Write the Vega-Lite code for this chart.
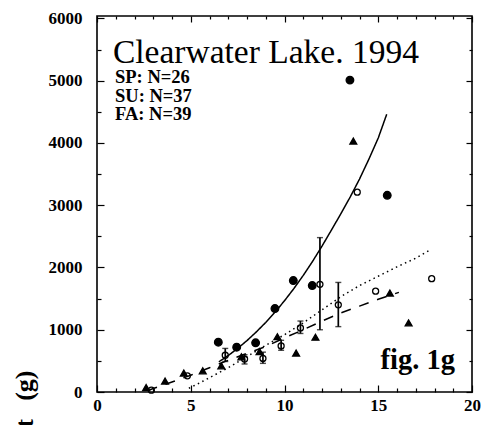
{
  "$schema": "https://vega.github.io/schema/vega-lite/v6.json",
  "width": 375,
  "height": 376,
  "autosize": {"type": "none"},
  "padding": {"left": 97, "top": 16, "right": 10, "bottom": 33},
  "background": "white",
  "datasets": {
    "points": [
      {"season": "SP", "x": 6.47, "y": 800},
      {"season": "SP", "x": 7.45, "y": 720},
      {"season": "SP", "x": 8.46, "y": 790},
      {"season": "SP", "x": 9.49, "y": 1340},
      {"season": "SP", "x": 10.47, "y": 1790},
      {"season": "SP", "x": 11.48, "y": 1710},
      {"season": "SP", "x": 13.49, "y": 5010},
      {"season": "SP", "x": 15.48, "y": 3160},
      {"season": "SU", "x": 2.62, "y": 70},
      {"season": "SU", "x": 3.63, "y": 175},
      {"season": "SU", "x": 4.63, "y": 305},
      {"season": "SU", "x": 5.64, "y": 340},
      {"season": "SU", "x": 6.63, "y": 420},
      {"season": "SU", "x": 7.7, "y": 565},
      {"season": "SU", "x": 8.67, "y": 650},
      {"season": "SU", "x": 9.62, "y": 888},
      {"season": "SU", "x": 10.62, "y": 625},
      {"season": "SU", "x": 11.65, "y": 880},
      {"season": "SU", "x": 13.67, "y": 4030},
      {"season": "SU", "x": 15.62, "y": 1590},
      {"season": "SU", "x": 16.62, "y": 1110},
      {"season": "FA", "x": 2.9, "y": 30},
      {"season": "FA", "x": 4.82, "y": 260},
      {"season": "FA", "x": 6.84, "y": 590},
      {"season": "FA", "x": 7.87, "y": 530},
      {"season": "FA", "x": 8.85, "y": 540},
      {"season": "FA", "x": 9.82, "y": 740},
      {"season": "FA", "x": 10.85, "y": 1030},
      {"season": "FA", "x": 11.89, "y": 1730},
      {"season": "FA", "x": 12.87, "y": 1400},
      {"season": "FA", "x": 13.88, "y": 3210},
      {"season": "FA", "x": 14.86, "y": 1620},
      {"season": "FA", "x": 17.85, "y": 1820}
    ],
    "curves": [
      {"fit": "SP", "x": 6.5, "y": 485},
      {"fit": "SP", "x": 7, "y": 586},
      {"fit": "SP", "x": 7.5, "y": 700},
      {"fit": "SP", "x": 8, "y": 826},
      {"fit": "SP", "x": 8.5, "y": 966},
      {"fit": "SP", "x": 9, "y": 1118},
      {"fit": "SP", "x": 9.5, "y": 1284},
      {"fit": "SP", "x": 10, "y": 1466},
      {"fit": "SP", "x": 10.5, "y": 1662},
      {"fit": "SP", "x": 11, "y": 1873},
      {"fit": "SP", "x": 11.5, "y": 2100},
      {"fit": "SP", "x": 12, "y": 2343},
      {"fit": "SP", "x": 12.5, "y": 2600},
      {"fit": "SP", "x": 13, "y": 2860},
      {"fit": "SP", "x": 13.5, "y": 3130},
      {"fit": "SP", "x": 14, "y": 3420},
      {"fit": "SP", "x": 14.5, "y": 3740},
      {"fit": "SP", "x": 15, "y": 4080},
      {"fit": "SP", "x": 15.45, "y": 4460},
      {"fit": "FA", "x": 2.7, "y": 20},
      {"fit": "FA", "x": 3, "y": 55},
      {"fit": "FA", "x": 4, "y": 160},
      {"fit": "FA", "x": 5, "y": 270},
      {"fit": "FA", "x": 6, "y": 390},
      {"fit": "FA", "x": 7, "y": 510},
      {"fit": "FA", "x": 8, "y": 620},
      {"fit": "FA", "x": 9, "y": 730},
      {"fit": "FA", "x": 10, "y": 870},
      {"fit": "FA", "x": 11, "y": 1000},
      {"fit": "FA", "x": 12, "y": 1140},
      {"fit": "FA", "x": 13, "y": 1270},
      {"fit": "FA", "x": 14, "y": 1380},
      {"fit": "FA", "x": 15, "y": 1490},
      {"fit": "FA", "x": 16.1, "y": 1600},
      {"fit": "SU", "x": 4.9, "y": 60},
      {"fit": "SU", "x": 5.5, "y": 150},
      {"fit": "SU", "x": 6, "y": 230},
      {"fit": "SU", "x": 6.5, "y": 310},
      {"fit": "SU", "x": 7, "y": 390},
      {"fit": "SU", "x": 7.5, "y": 480},
      {"fit": "SU", "x": 8, "y": 570},
      {"fit": "SU", "x": 9, "y": 750},
      {"fit": "SU", "x": 10, "y": 920},
      {"fit": "SU", "x": 11, "y": 1110},
      {"fit": "SU", "x": 12, "y": 1320},
      {"fit": "SU", "x": 13, "y": 1530},
      {"fit": "SU", "x": 14, "y": 1710},
      {"fit": "SU", "x": 15, "y": 1860},
      {"fit": "SU", "x": 16, "y": 2010},
      {"fit": "SU", "x": 17, "y": 2150},
      {"fit": "SU", "x": 17.7, "y": 2270}
    ],
    "bars": [
      {"x": 6.84, "lo": 490, "hi": 700},
      {"x": 7.87, "lo": 450, "hi": 600},
      {"x": 8.85, "lo": 460, "hi": 640},
      {"x": 9.82, "lo": 670, "hi": 830},
      {"x": 10.85, "lo": 940, "hi": 1140},
      {"x": 11.89, "lo": 1000, "hi": 2480},
      {"x": 12.87, "lo": 1050, "hi": 1760}
    ]
  },
  "layer": [
    {
      "data": {"name": "points"},
      "mark": {"type": "point", "opacity": 0},
      "encoding": {
        "x": {"field": "x", "type": "quantitative", "scale": {"domain": [0, 20], "nice": false, "zero": false},
          "axis": {"orient": "top", "values": [0,1,2,3,4,5,6,7,8,9,10,11,12,13,14,15,16,17,18,19,20], "labels": false, "title": null,
            "tickSize": {"condition": {"test": "datum.value % 5 === 0", "value": -6}, "value": -3}}},
        "y": {"field": "y", "type": "quantitative", "scale": {"domain": [0, 6040], "nice": false, "zero": false},
          "axis": {"orient": "right", "values": [0,500,1000,1500,2000,2500,3000,3500,4000,4500,5000,5500,6000], "labels": false, "title": null,
            "tickSize": {"condition": {"test": "datum.value % 1000 === 0", "value": -6}, "value": -3}}}
      }
    },
    {
      "data": {"name": "points"},
      "mark": {"type": "point", "stroke": "black", "strokeWidth": 1.3, "opacity": 1},
      "encoding": {
        "x": {"field": "x", "type": "quantitative", "scale": {"domain": [0, 20], "nice": false, "zero": false},
          "axis": {"orient": "bottom", "values": [0,1,2,3,4,5,6,7,8,9,10,11,12,13,14,15,16,17,18,19,20], "title": null,
            "labelExpr": "datum.value % 5 === 0 ? datum.label : ''", "labelPadding": 12, "labelOverlap": false, "labelFlush": false,
            "tickSize": {"condition": {"test": "datum.value % 5 === 0", "value": -7}, "value": -4}}},
        "y": {"field": "y", "type": "quantitative", "scale": {"domain": [0, 6040], "nice": false, "zero": false},
          "axis": {"orient": "left", "values": [0,500,1000,1500,2000,2500,3000,3500,4000,4500,5000,5500,6000],
            "labelExpr": "datum.value % 1000 === 0 ? datum.label : ''", "labelPadding": 22, "labelOverlap": false, "labelFlush": false, "format": "d",
            "tickSize": {"condition": {"test": "datum.value % 1000 === 0", "value": -7}, "value": -4},
            "title": "Weight\u2002\u2009(g)", "titleFont": "Liberation Serif", "titleFontWeight": "bold", "titleFontSize": 26, "titleColor": "black",
            "titleAngle": -90, "titleAlign": "right", "titleBaseline": "alphabetic", "titleX": -65, "titleY": 354}},
        "shape": {"field": "season", "type": "nominal", "scale": {"domain": ["SP", "SU", "FA"], "range": ["circle", "triangle-up", "circle"]}, "legend": null},
        "fill": {"field": "season", "type": "nominal", "scale": {"domain": ["SP", "SU", "FA"], "range": ["black", "black", "transparent"]}, "legend": null},
        "size": {"field": "season", "type": "nominal", "scale": {"domain": ["SP", "SU", "FA"], "range": [58, 36, 68]}, "legend": null}
      }
    },
    {
      "data": {"name": "curves"},
      "mark": {"type": "line", "color": "black", "strokeWidth": 1.5},
      "encoding": {
        "x": {"field": "x", "type": "quantitative", "scale": {"domain": [0, 20], "nice": false, "zero": false}, "axis": null},
        "y": {"field": "y", "type": "quantitative", "scale": {"domain": [0, 6040], "nice": false, "zero": false}, "axis": null},
        "strokeDash": {"field": "fit", "type": "nominal", "scale": {"domain": ["SP", "SU", "FA"], "range": [[1, 0], [1.5, 3.5], [10, 9]]}, "legend": null}
      }
    },
    {
      "data": {"name": "bars"},
      "mark": {"type": "errorbar", "color": "black", "thickness": 1.7, "ticks": {"size": 6, "thickness": 1.4, "color": "black"}},
      "encoding": {
        "x": {"field": "x", "type": "quantitative", "scale": {"domain": [0, 20], "nice": false, "zero": false}, "axis": null},
        "y": {"field": "lo", "type": "quantitative", "scale": {"domain": [0, 6040], "nice": false, "zero": false}, "axis": null},
        "y2": {"field": "hi"}
      }
    },
    {
      "data": {"values": [{"label": "Clearwater Lake. 1994"}]},
      "mark": {"type": "text", "align": "left", "baseline": "alphabetic", "font": "Liberation Serif", "fontSize": 33.5, "color": "black"},
      "encoding": {
        "x": {"datum": 0.85, "type": "quantitative", "scale": {"domain": [0, 20], "nice": false, "zero": false}, "axis": null},
        "y": {"datum": 5279, "type": "quantitative", "scale": {"domain": [0, 6040], "nice": false, "zero": false}, "axis": null},
        "text": {"field": "label"}
      }
    },
    {
      "data": {"values": [{"label": "SP: N=26\nSU: N=37\nFA: N=39"}]},
      "mark": {"type": "text", "align": "left", "baseline": "alphabetic", "font": "Liberation Serif", "fontWeight": "bold", "fontSize": 18.5, "lineHeight": 18.5, "lineBreak": "\n", "color": "black"},
      "encoding": {
        "x": {"datum": 0.96, "type": "quantitative", "scale": {"domain": [0, 20], "nice": false, "zero": false}, "axis": null},
        "y": {"datum": 4958, "type": "quantitative", "scale": {"domain": [0, 6040], "nice": false, "zero": false}, "axis": null},
        "text": {"field": "label"}
      }
    },
    {
      "data": {"values": [{"label": "fig. 1g"}]},
      "mark": {"type": "text", "align": "right", "baseline": "alphabetic", "font": "Liberation Serif", "fontWeight": "bold", "fontSize": 28.5, "color": "black"},
      "encoding": {
        "x": {"datum": 19.09, "type": "quantitative", "scale": {"domain": [0, 20], "nice": false, "zero": false}, "axis": null},
        "y": {"datum": 369, "type": "quantitative", "scale": {"domain": [0, 6040], "nice": false, "zero": false}, "axis": null},
        "text": {"field": "label"}
      }
    }
  ],
  "resolve": {"axis": {"x": "independent", "y": "independent"}},
  "config": {
    "view": {"stroke": "black", "strokeWidth": 1.6},
    "axis": {"domain": false, "grid": false, "ticks": true, "tickColor": "black", "tickWidth": 1.2,
      "labelColor": "black", "labelFont": "Liberation Serif", "labelFontWeight": "bold", "labelFontSize": 17}
  }
}
